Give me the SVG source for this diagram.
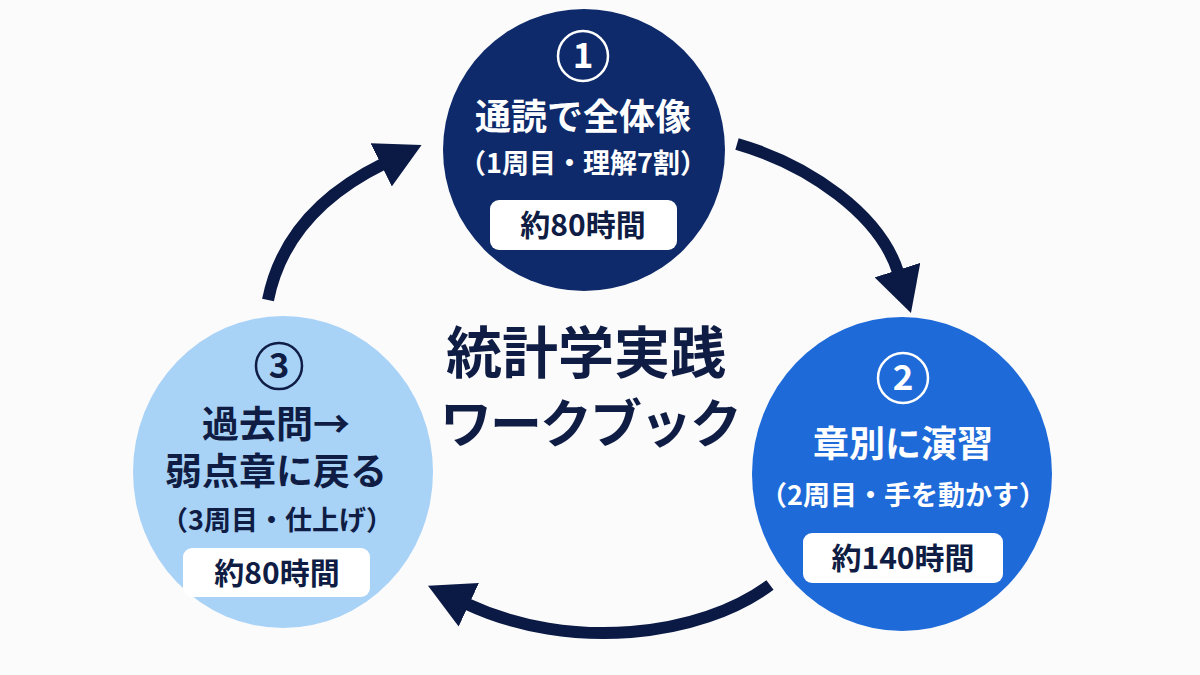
<svg xmlns="http://www.w3.org/2000/svg" width="1200" height="675" viewBox="0 0 1200 675">
  <defs>
    <marker id="head" markerUnits="strokeWidth" markerWidth="3.75" markerHeight="4" viewBox="0 0 45 48" refX="2" refY="24" orient="auto">
      <path d="M0,0 L45,24 L0,48 z" fill="#0b1a45"/>
    </marker>
    <style>
      text { font-family: "Noto Sans CJK JP", "Noto Sans", sans-serif; font-weight: 700; text-anchor: middle; }
      .w { fill: #ffffff; }
      .d { fill: #0f1d44; }
      .t1 { font-size: 36px; }
      .t2 { font-size: 27px; }
      .hrs { font-size: 30px; fill: #0f1d44; }
      .num { font-size: 35px; }
      .box { fill: #ffffff; }
      .conn { fill: none; stroke: #0b1a45; stroke-width: 12; marker-end: url(#head); }
      .title { font-size: 56px; fill: #0f1d44; }
    </style>
  </defs>
  <rect width="1200" height="675" fill="#fbfbfc"/>

  <g id="connectors">
    <path class="conn" d="M737,144 C810,165 880,215 898,272"/>
    <path class="conn" d="M770,585 C700,637 570,652 467,604"/>
    <path class="conn" d="M268,300 C280,240 320,195 383,164"/>
  </g>

  <g id="node1">
    <circle cx="584" cy="150" r="141" fill="#0e2a6a"/>
    <circle cx="583" cy="56" r="25" fill="none" stroke="#ffffff" stroke-width="2.5"/>
    <text class="w num" x="583" y="68">1</text>
    <text class="w t1" x="583" y="130">通読で全体像</text>
    <text class="w t2" x="583" y="173">（1周目・理解7割）</text>
    <rect class="box" x="490" y="200" width="187" height="50" rx="9"/>
    <text class="hrs" x="583" y="236">約80時間</text>
  </g>

  <g id="node2">
    <ellipse cx="902" cy="474" rx="150" ry="157" fill="#1e6ad9"/>
    <circle cx="903" cy="378" r="25" fill="none" stroke="#ffffff" stroke-width="2.5"/>
    <text class="w num" x="903" y="390">2</text>
    <text class="w t1" x="903" y="457">章別に演習</text>
    <text class="w t2" x="903" y="505">（2周目・手を動かす）</text>
    <rect class="box" x="803" y="533" width="200" height="50" rx="9"/>
    <text class="hrs" x="903" y="569">約140時間</text>
  </g>

  <g id="node3">
    <ellipse cx="283" cy="472" rx="150" ry="156" fill="#a9d2f7"/>
    <circle cx="279" cy="366" r="23" fill="none" stroke="#0f1d44" stroke-width="2.5"/>
    <text class="d num" x="279" y="378">3</text>
    <text class="d t1" x="276" y="438" style="font-size:37px">過去問→</text>
    <text class="d t1" x="276" y="485" style="font-size:37px">弱点章に戻る</text>
    <text class="d t2" x="277" y="530">（3周目・仕上げ）</text>
    <rect class="box" x="183" y="548" width="187" height="49" rx="9"/>
    <text class="hrs" x="277" y="584">約80時間</text>
  </g>

  <g id="title">
    <text class="title" x="586" y="373">統計学実践</text>
    <text class="title" x="590" y="443" style="font-size:52px;letter-spacing:-2px">ワークブック</text>
  </g>
</svg>
